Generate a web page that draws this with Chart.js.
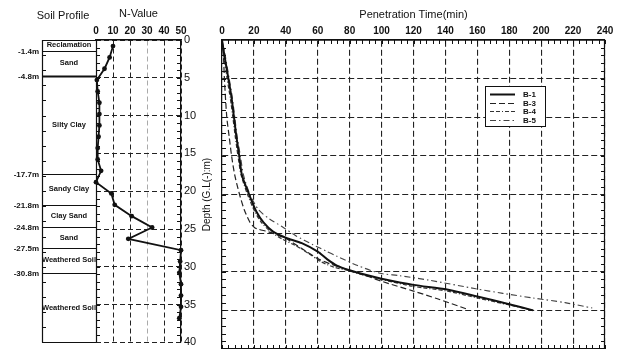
<!DOCTYPE html>
<html>
<head>
<meta charset="utf-8">
<script src="https://cdn.jsdelivr.net/npm/chart.js@4.4.1/dist/chart.umd.min.js"></script>
<style>
  html, body { margin: 0; padding: 0; background: #fff; }
  #wrap { position: relative; width: 619px; height: 352px; overflow: hidden; }
  #nBox { position: absolute; left: 0; top: 0; width: 197px; height: 352px; }
  #timeBox { position: absolute; left: 197px; top: 0; width: 422px; height: 352px; }
</style>
</head>
<body>
<div id="wrap">
  <div id="nBox"><canvas id="nChart"></canvas></div>
  <div id="timeBox"><canvas id="timeChart"></canvas></div>
</div>
<script>
// soil layers (depth of each boundary in m, name of the layer below it)
const soilBounds = [0, 1.4, 4.8, 17.7, 21.8, 24.8, 27.5, 30.8, 40];
const soilNames = ['Reclamation', 'Sand', 'Silty Clay', 'Sandy Clay', 'Clay Sand', 'Sand', 'Weathered Soil', 'Weathered Soil'];
const soilDepthLabels = ['', '-1.4m', '-4.8m', '-17.7m', '-21.8m', '-24.8m', '-27.5m', '-30.8m', ''];

// SPT N-value log
const nDepth = [0.8, 2.3, 3.8, 5.3, 6.8, 8.3, 9.8, 11.3, 12.8, 14.3, 15.8, 17.3, 18.8, 20.3, 21.8, 23.3, 24.8, 26.3, 27.8, 29.3, 30.8, 32.3, 33.8, 35.3, 36.8];
const nValue = [10, 8, 5, 0.5, 1, 2, 2, 2, 1.5, 1, 1, 3, 0, 9, 11, 21, 33, 19, 50, 49.5, 49, 50, 50, 50, 49];

// penetration time (min) vs depth (m) per borehole
const b1Time  = [0, 1.5, 4, 6, 7.5, 9, 10.8, 12.5, 17, 21.5, 26, 32, 40, 50, 60, 66, 72, 80, 90, 100, 120, 141, 160, 180, 195];
const b1Depth = [0, 2, 5, 7.5, 10, 12.5, 15, 17.5, 20, 22.2, 23.6, 24.8, 25.6, 26.3, 27.4, 28.4, 29.2, 29.8, 30.4, 30.9, 31.7, 32.3, 33.2, 34.2, 35];
const b3Time  = [0, 1, 1.5, 3, 4.5, 6, 8, 11, 14, 17.5, 20.5, 23, 30, 40, 50, 60, 68, 78, 90, 101, 120, 135, 153];
const b3Depth = [0, 2.5, 5, 10, 12.5, 15, 17.5, 20, 22, 23.6, 24.3, 24.5, 24.9, 25.7, 27, 28.3, 29, 29.7, 30.5, 31.3, 32.5, 33.5, 34.8];
const b4Time  = [0, 1.2, 3.2, 5.2, 6.8, 8.3, 10, 12, 16, 20.5, 25, 31, 38, 46, 54, 62, 70, 80, 90, 100, 120, 141, 160, 180, 195];
const b4Depth = [0, 2, 5, 7.5, 10, 12.5, 15, 17.5, 20, 22.2, 23.7, 24.9, 25.8, 26.6, 27.6, 28.7, 29.4, 29.9, 30.5, 31, 31.9, 32.5, 33.4, 34.3, 35];
const b5Time  = [0, 2, 4.5, 6.5, 8, 9.5, 11.5, 13.5, 17.5, 23, 30, 38, 46, 57, 65, 72, 85, 99, 111, 130, 159, 176, 195, 215, 232];
const b5Depth = [0, 2, 5, 7.5, 10, 12.5, 15, 17.5, 20, 22, 23.2, 24.2, 25.3, 26.5, 27.3, 28, 29.2, 30.2, 30.5, 31.1, 32.2, 32.8, 33.4, 34, 34.7];

const FONT = "'Liberation Sans', Arial, sans-serif";
const INK = '#111';

const toPoints = (xs, ys) => xs.map((v, i) => ({ x: v, y: ys[i] }));

// soil column drawn to the left of the N-value plot, sharing its depth scale
const soilColumn = {
  id: 'soilColumn',
  afterDraw(chart) {
    const { ctx, chartArea: a, scales: { y } } = chart;
    const right = a.left;
    const left = a.left - 54;
    ctx.save();
    ctx.strokeStyle = INK;
    ctx.fillStyle = INK;

    ctx.lineWidth = 1.2;
    ctx.beginPath();
    ctx.moveTo(left + 0.5, y.getPixelForValue(0));
    ctx.lineTo(left + 0.5, y.getPixelForValue(40));
    ctx.moveTo(right + 0.5, y.getPixelForValue(0));
    ctx.lineTo(right + 0.5, y.getPixelForValue(40));
    ctx.stroke();

    soilBounds.forEach((d, i) => {
      const py = Math.round(y.getPixelForValue(d)) + 0.5;
      ctx.lineWidth = d === 4.8 ? 2 : 1.2;
      ctx.beginPath();
      ctx.moveTo(left, py);
      ctx.lineTo(right, py);
      ctx.stroke();
      if (soilDepthLabels[i]) {
        ctx.font = 'bold 8px ' + FONT;
        ctx.textAlign = 'right';
        ctx.textBaseline = 'middle';
        ctx.fillText(soilDepthLabels[i], left - 3, py);
      }
    });

    // small ticks on both edges of the column
    ctx.lineWidth = 1;
    ctx.beginPath();
    for (let d = 1; d < 40; d++) {
      const py = Math.round(y.getPixelForValue(d)) + 0.5;
      if (d % 2 === 0) {
        ctx.moveTo(left, py);
        ctx.lineTo(left + 4, py);
      }
      ctx.moveTo(right, py);
      ctx.lineTo(right + 4, py);
      ctx.moveTo(a.right, py);
      ctx.lineTo(a.right - 4, py);
    }
    ctx.stroke();

    ctx.font = 'bold 7.5px ' + FONT;
    ctx.textAlign = 'center';
    ctx.textBaseline = 'middle';
    soilNames.forEach((name, i) => {
      const mid = (y.getPixelForValue(soilBounds[i]) + y.getPixelForValue(soilBounds[i + 1])) / 2;
      ctx.fillText(name, (left + right) / 2, mid);
    });

    ctx.font = '11px ' + FONT;
    ctx.fillText('Soil Profile', (left + right) / 2 - 6, 16);
    ctx.restore();
  }
};

// closed frame with minor ticks around the penetration plot
const frameTicks = {
  id: 'frameTicks',
  afterDraw(chart) {
    const { ctx, chartArea: a, scales: { x, y } } = chart;
    ctx.save();
    ctx.strokeStyle = INK;
    ctx.lineWidth = 1.2;
    ctx.beginPath();
    ctx.moveTo(a.right - 0.5, a.top);
    ctx.lineTo(a.right - 0.5, a.bottom);
    ctx.moveTo(a.left, a.bottom - 0.5);
    ctx.lineTo(a.right, a.bottom - 0.5);
    ctx.stroke();
    ctx.lineWidth = 1;
    ctx.beginPath();
    for (let t = 0; t <= 240; t += 4) {
      const px = Math.round(x.getPixelForValue(t)) + 0.5;
      ctx.moveTo(px, a.top);
      ctx.lineTo(px, a.top + 4);
      ctx.moveTo(px, a.bottom);
      ctx.lineTo(px, a.bottom - 4);
    }
    for (let d = 1; d < 40; d++) {
      const py = Math.round(y.getPixelForValue(d)) + 0.5;
      ctx.moveTo(a.left, py);
      ctx.lineTo(a.left + 4, py);
      ctx.moveTo(a.right, py);
      ctx.lineTo(a.right - 4, py);
    }
    ctx.stroke();
    ctx.restore();
  }
};

// boxed legend inside the plot, upper right
const boxLegend = {
  id: 'boxLegend',
  afterDraw(chart) {
    const { ctx, chartArea: a } = chart;
    const bx = a.right - 120, by = a.top + 46, bw = 60, bh = 40;
    ctx.save();
    ctx.fillStyle = '#fff';
    ctx.fillRect(bx, by, bw, bh);
    ctx.strokeStyle = INK;
    ctx.lineWidth = 1;
    ctx.strokeRect(bx + 0.5, by + 0.5, bw, bh);
    ctx.font = 'bold 8px ' + FONT;
    ctx.textBaseline = 'middle';
    ctx.textAlign = 'left';
    chart.data.datasets.forEach((ds, i) => {
      const ly = Math.round(by + 8 + i * 8.5) + 0.5;
      ctx.strokeStyle = ds.borderColor;
      ctx.lineWidth = ds.borderWidth;
      ctx.setLineDash(ds.borderDash || []);
      ctx.beginPath();
      ctx.moveTo(bx + 5, ly);
      ctx.lineTo(bx + 30, ly);
      ctx.stroke();
      ctx.setLineDash([]);
      ctx.fillStyle = INK;
      ctx.fillText(ds.label, bx + 38, ly + 0.5);
    });
    ctx.restore();
  }
};

new Chart(document.getElementById('nChart'), {
  type: 'line',
  data: {
    datasets: [{
      label: 'N-Value',
      data: toPoints(nValue, nDepth),
      borderColor: INK,
      borderWidth: 1.8,
      pointRadius: 2.4,
      pointBackgroundColor: INK,
      pointBorderWidth: 0,
      tension: 0,
      clip: 6
    }]
  },
  options: {
    responsive: true,
    maintainAspectRatio: false,
    animation: false,
    layout: { padding: { left: 96, top: 0, right: 0, bottom: 3 } },
    plugins: { legend: { display: false }, tooltip: { enabled: false } },
    scales: {
      x: {
        type: 'linear',
        position: 'top',
        min: 0,
        max: 50,
        ticks: { stepSize: 10, padding: 3, maxRotation: 0, color: INK, font: { family: FONT, size: 10, weight: 'bold' } },
        grid: {
          drawTicks: false,
          lineWidth: 1,
          color: ctx => (ctx.tick && ctx.tick.value === 30 ? '#aaa' : '#222')
        },
        border: { color: INK, width: 1.5, dash: [5, 3] },
        title: { display: true, text: 'N-Value', color: INK, font: { family: FONT, size: 11 }, padding: { top: 7, bottom: 0 } },
        afterFit: s => { s.height = 40; }
      },
      y: {
        type: 'linear',
        position: 'right',
        reverse: true,
        min: 0,
        max: 40,
        ticks: { stepSize: 5, padding: 3, color: INK, font: { family: FONT, size: 11 } },
        grid: { drawTicks: false, color: '#222', lineWidth: 1 },
        border: { color: INK, width: 1.2, dash: [5, 3] },
        afterFit: s => { s.width = 16; }
      }
    }
  },
  plugins: [soilColumn]
});

const lineStyle = {
  pointRadius: 0,
  tension: 0.25,
  fill: false
};

new Chart(document.getElementById('timeChart'), {
  type: 'line',
  data: {
    datasets: [
      { label: 'B-1', data: toPoints(b1Time, b1Depth), borderColor: INK, borderWidth: 2, ...lineStyle },
      { label: 'B-3', data: toPoints(b3Time, b3Depth), borderColor: '#222', borderWidth: 1.2, borderDash: [6, 3], ...lineStyle },
      { label: 'B-4', data: toPoints(b4Time, b4Depth), borderColor: '#333', borderWidth: 1.2, borderDash: [4, 2, 4, 2, 1, 2], ...lineStyle },
      { label: 'B-5', data: toPoints(b5Time, b5Depth), borderColor: '#444', borderWidth: 1.1, borderDash: [6, 3, 1.5, 3], ...lineStyle }
    ]
  },
  options: {
    responsive: true,
    maintainAspectRatio: false,
    animation: false,
    layout: { padding: { left: 0, top: 0, right: 14, bottom: 3 } },
    plugins: { legend: { display: false }, tooltip: { enabled: false } },
    scales: {
      x: {
        type: 'linear',
        position: 'top',
        min: 0,
        max: 240,
        ticks: { stepSize: 20, padding: 3, maxRotation: 0, color: INK, font: { family: FONT, size: 10, weight: 'bold' } },
        grid: { drawTicks: false, color: '#222', lineWidth: 1.1 },
        border: { color: INK, width: 1.8, dash: [6, 3] },
        title: { display: true, text: 'Penetration Time(min)', color: INK, font: { family: FONT, size: 11 }, padding: { top: 8, bottom: 0 } },
        afterFit: s => { s.height = 40; }
      },
      y: {
        type: 'linear',
        position: 'left',
        reverse: true,
        min: 0,
        max: 40,
        ticks: { stepSize: 5, display: false },
        grid: { drawTicks: false, color: '#222', lineWidth: 1.1 },
        border: { color: INK, width: 1.2, dash: [6, 3] },
        title: { display: true, text: 'Depth (G.L(-):m)', color: INK, font: { family: FONT, size: 10 }, padding: { top: 4, bottom: 0 } },
        afterFit: s => { s.width = 25; }
      }
    }
  },
  plugins: [frameTicks, boxLegend]
});
</script>
</body>
</html>
